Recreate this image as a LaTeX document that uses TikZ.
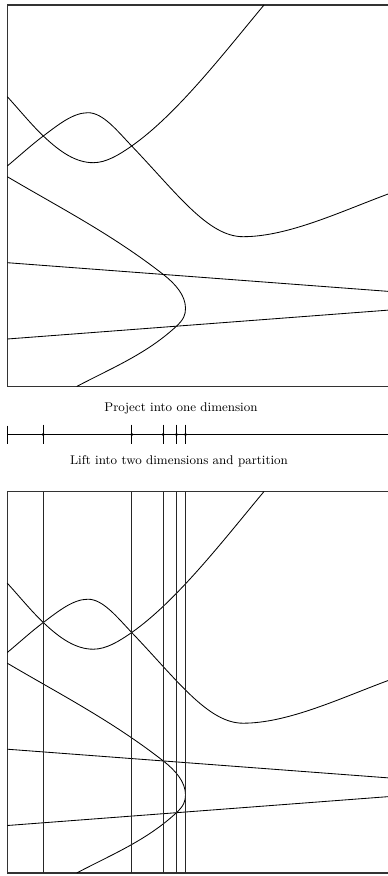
\documentclass[tikz,border=0pt]{standalone}
\usepackage{tikz}
\usetikzlibrary{calc}
\tikzset{
  branch/.style={line width=0.6pt,black},
  boxline/.style={line width=0.8pt,black!80},
  cutline/.style={line width=0.6pt,black!85},
  axisline/.style={line width=0.6pt,black},
}

\begin{document}
\begin{tikzpicture}[x=0.25mm,y=-0.25mm,font=\fontsize{9}{11}\selectfont]
\useasboundingbox (0,0) rectangle (388,876);
\def\critx{43.3,131.7,163.3,176.5,185.5}
\def\arrangement{
  \draw[boxline] (7.3,5) rectangle (390,386.5);
  % the two lines
  \draw[branch] (7.3,262.7) -- (390,291.5);
  \draw[branch] (7.3,339) -- (390,310);
  % sideways branch
  \draw[branch] (7.3,176.7) .. controls (59.3,207.4) and (111.3,233.9) .. (163.3,274.45)
    .. controls (175.3,283.8) and (185.5,295.3) .. (185.5,308.3)
    .. controls (185.5,315) and (183.5,319.6) .. (176.5,326.15)
    .. controls (146.5,354) and (111.7,368) .. (76.7,386.5);
  % hump
  \draw[branch] (7.3,166) .. controls (19.3,156) and (31.3,145) .. (43.3,136)
    .. controls (58.3,124.75) and (73,112.7) .. (88,112.7)
    .. controls (103,112.7) and (117.2,130.8) .. (131.7,146)
    .. controls (176.7,193) and (208,236.7) .. (243,236.7)
    .. controls (288,236.7) and (340,211.8) .. (390,193.3);
  % valley
  \draw[branch] (7.3,96.7) .. controls (19.3,109.8) and (31.3,124.6) .. (43.3,136)
    .. controls (60.3,152.2) and (76,162.7) .. (93.3,162.7)
    .. controls (106,162.7) and (118.7,155.1) .. (131.7,146)
    .. controls (176.7,114.5) and (224,53) .. (264,5);
}
\arrangement
\node[anchor=base] (proj) at (181,411.5) {Project into one dimension};
\draw[axisline] (7.3,434.5) -- (390,434.5);
\draw[axisline] (7.3,425.5) -- (7.3,443.5);
\foreach \xx in \critx {
  \draw[axisline] (\xx,424.5) -- (\xx,444);
  \fill (\xx,434.5) circle (1.2pt);
}
\node[anchor=base] (lift) at (179,464) {Lift into two dimensions and partition};
\begin{scope}[shift={(0,486.5)}]
\arrangement
\foreach \xx in \critx \draw[cutline] (\xx,5) -- (\xx,386.5);
\end{scope}
\end{tikzpicture}
\end{document}
